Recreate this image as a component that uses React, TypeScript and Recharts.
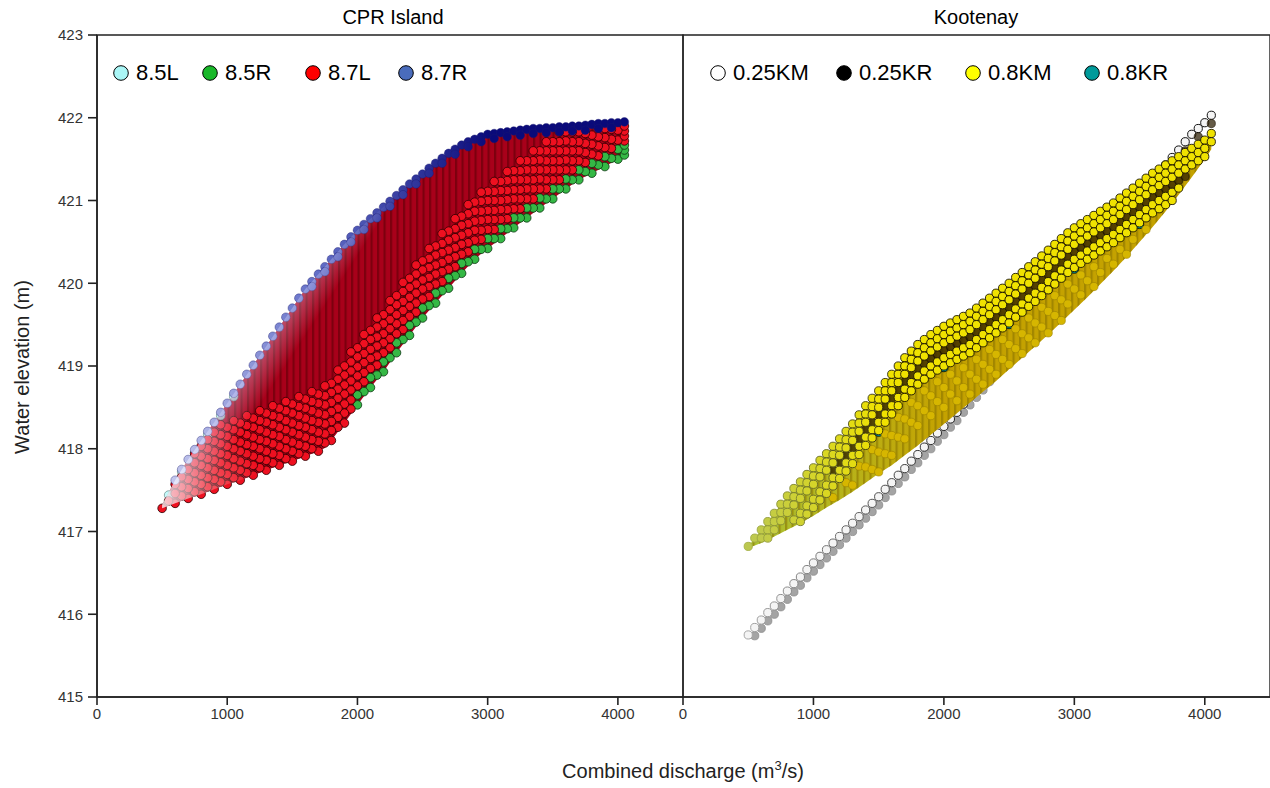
import React from "react";
import { ComposedChart, Area, Scatter, XAxis, YAxis, ReferenceArea } from "recharts";

type Lane = { grid: number[]; from: number; ys: number[] };

const xTicks = [0, 1000, 2000, 3000, 4000];
const yTicks = [415, 416, 417, 418, 419, 420, 421, 422, 423];

// discharge steps the modelled points sit on
const gridA = [500, 600, 700, 800, 900, 1000, 1100, 1200, 1300, 1400, 1500, 1600, 1700, 1800, 1900, 2000, 2100, 2200, 2300, 2400, 2500, 2600, 2700, 2800, 2900, 3000, 3100, 3200, 3300, 3400, 3500, 3600, 3700, 3800, 3900, 4000, 4050];
const gridB = [550, 650, 750, 850, 950, 1050, 1150, 1250, 1350, 1450, 1550, 1650, 1750, 1850, 1950, 2050, 2150, 2250, 2350, 2450, 2550, 2650, 2750, 2850, 2950, 3050, 3150, 3250, 3350, 3450, 3550, 3650, 3750, 3850, 3950, 4050];
const gridC = [500, 550, 600, 650, 700, 750, 800, 850, 900, 950, 1000, 1050, 1100, 1150, 1200, 1250, 1300, 1350, 1400, 1450, 1500, 1550, 1600, 1650, 1700, 1750, 1800, 1850, 1900, 1950, 2000, 2050, 2100, 2150, 2200, 2250, 2300, 2350, 2400, 2450, 2500, 2550, 2600, 2650, 2700, 2750, 2800, 2850, 2900, 2950, 3000, 3050, 3100, 3150, 3200, 3250, 3300, 3350, 3400, 3450, 3500, 3550, 3600, 3650, 3700, 3750, 3800, 3850, 3900, 3950, 4000, 4050];

// ---------- CPR Island
const cprX = [500, 600, 700, 800, 900, 1000, 1100, 1200, 1300, 1400, 1500, 1600, 1700, 1750, 1800, 1900, 2000, 2100, 2200, 2300, 2400, 2500, 2600, 2700, 2800, 2900, 3000, 3100, 3200, 3300, 3400, 3500, 3600, 3700, 3800, 3900, 4000, 4050];
const cprLow = [417.28, 417.34, 417.4, 417.45, 417.51, 417.57, 417.62, 417.68, 417.74, 417.8, 417.85, 417.91, 417.97, 418.01, 418.1, 418.31, 418.53, 418.74, 418.93, 419.16, 419.37, 419.58, 419.76, 419.94, 420.12, 420.29, 420.42, 420.54, 420.67, 420.79, 420.91, 421.02, 421.14, 421.25, 421.33, 421.41, 421.5, 421.55];
const cprHigh = [417.32, 417.62, 417.87, 418.1, 418.32, 418.55, 418.78, 419.01, 419.24, 419.47, 419.7, 419.93, 420.11, 420.2, 420.29, 420.47, 420.64, 420.78, 420.92, 421.06, 421.2, 421.32, 421.45, 421.57, 421.67, 421.74, 421.8, 421.82, 421.84, 421.86, 421.87, 421.88, 421.89, 421.9, 421.92, 421.93, 421.94, 421.95];

const cpr85L: Lane[] = [
  { grid: gridB, from: 550, ys: [417.44, 417.72, 417.95, 418.17, 418.4, 418.63] },
];
const cpr85R: Lane[] = [
  { grid: gridA, from: 2000, ys: [418.53, 418.74, 418.93, 419.16, 419.37, 419.58, 419.76, 419.94, 420.12, 420.29, 420.42, 420.54, 420.67, 420.79, 420.91, 421.02, 421.14, 421.25, 421.33, 421.41, 421.5, 421.55] },
  { grid: gridB, from: 2050, ys: [418.69, 418.89, 419.1, 419.32, 419.53, 419.73, 419.91, 420.09, 420.26, 420.41, 420.54, 420.66, 420.79, 420.91, 421.02, 421.14, 421.25, 421.35, 421.43, 421.51, 421.61] },
  { grid: gridA, from: 2000, ys: [418.65, 418.86, 419.05, 419.28, 419.49, 419.7, 419.88, 420.06, 420.24, 420.41, 420.54, 420.66, 420.79, 420.91, 421.03, 421.14, 421.26, 421.37, 421.45, 421.53, 421.62, 421.67] },
];
const cpr87L: Lane[] = [
  { grid: gridA, from: 500, ys: [417.28, 417.34, 417.4, 417.45, 417.51, 417.57, 417.62, 417.68, 417.74, 417.8, 417.85, 417.91, 417.97, 418.1, 418.31] },
  { grid: gridB, from: 550, ys: [417.37, 417.43, 417.48, 417.54, 417.6, 417.65, 417.71, 417.77, 417.83, 417.88, 417.94, 418.0, 418.07, 418.26, 418.48] },
  { grid: gridA, from: 600, ys: [417.46, 417.52, 417.57, 417.63, 417.69, 417.74, 417.8, 417.86, 417.92, 417.97, 418.03, 418.09, 418.22, 418.43] },
  { grid: gridB, from: 650, ys: [417.54, 417.6, 417.65, 417.71, 417.77, 417.82, 417.88, 417.94, 418.0, 418.05, 418.11, 418.18, 418.38, 418.59, 418.81, 419.01, 419.22, 419.44, 419.65, 419.84, 420.02, 420.2, 420.38, 420.53, 420.65, 420.78, 420.9, 421.02, 421.14, 421.25, 421.37, 421.46, 421.54, 421.63, 421.72] },
  { grid: gridA, from: 600, ys: [417.57, 417.63, 417.68, 417.74, 417.8, 417.85, 417.91, 417.97, 418.03, 418.08, 418.14, 418.2, 418.33, 418.54, 418.76, 418.97, 419.16, 419.39, 419.6, 419.81, 419.99, 420.17, 420.35, 420.52, 420.65, 420.77, 420.9, 421.02, 421.14, 421.25, 421.37, 421.48, 421.56, 421.64, 421.73, 421.78] },
  { grid: gridB, from: 650, ys: [417.66, 417.71, 417.77, 417.83, 417.88, 417.94, 418.0, 418.06, 418.11, 418.17, 418.23, 418.3, 418.49, 418.71, 418.92, 419.12, 419.33, 419.55, 419.76, 419.96, 420.14, 420.32, 420.49, 420.64, 420.77, 420.89, 421.02, 421.14, 421.25, 421.37, 421.48, 421.58, 421.66, 421.74, 421.84] },
  { grid: gridA, from: 700, ys: [417.75, 417.8, 417.86, 417.92, 417.97, 418.03, 418.09, 418.15, 418.2, 418.26, 418.32, 418.45, 418.66, 418.88, 419.09, 419.28, 419.51, 419.72, 419.93, 420.11, 420.29, 420.47, 420.64, 420.77, 420.89, 421.02, 421.14, 421.26, 421.37, 421.49, 421.6, 421.68, 421.76, 421.85, 421.9] },
  { grid: gridB, from: 750, ys: [417.83, 417.88, 417.94, 418.0, 418.05, 418.11, 418.17, 418.23, 418.28, 418.34, 418.41, 418.61, 418.82, 419.04, 419.24, 419.45, 419.67, 419.88, 420.07, 420.25, 420.43, 420.61, 420.76, 420.88, 421.01, 421.13, 421.25, 421.37, 421.48, 421.6, 421.69, 421.77, 421.86] },
  { grid: gridA, from: 800, ys: [417.91, 417.97, 418.03, 418.08, 418.14, 418.2, 418.26, 418.31, 418.37, 418.43, 418.56, 418.77, 418.99, 419.2, 419.39, 419.62, 419.83, 420.04, 420.22, 420.4, 420.58, 420.75, 420.88, 421.0, 421.13, 421.25, 421.37, 421.48, 421.6, 421.71, 421.79, 421.87] },
  { grid: gridB, from: 750, ys: [417.94, 418.0, 418.06, 418.11, 418.17, 418.23, 418.29, 418.34, 418.4, 418.46, 418.53, 418.72, 418.94, 419.15, 419.35, 419.56, 419.78, 419.99, 420.19, 420.37, 420.55, 420.72, 420.87, 421.0, 421.12, 421.25, 421.37, 421.48, 421.6, 421.71, 421.81, 421.89] },
  { grid: gridA, from: 800, ys: [418.03, 418.09, 418.15, 418.2, 418.26, 418.32, 418.38, 418.43, 418.49, 418.55, 418.68, 418.89, 419.11, 419.32, 419.51, 419.74, 419.95, 420.16, 420.34, 420.52, 420.7, 420.87, 421.0, 421.12, 421.25, 421.37, 421.49, 421.6, 421.72, 421.83] },
  { grid: gridB, from: 850, ys: [418.11, 418.17, 418.23, 418.28, 418.34, 418.4, 418.46, 418.51, 418.57, 418.64, 418.84, 419.05, 419.27, 419.47, 419.68, 419.9, 420.11, 420.3, 420.48, 420.66, 420.84, 420.99, 421.11, 421.24, 421.36, 421.48, 421.6, 421.71, 421.83] },
  { grid: gridA, from: 900, ys: [418.2, 418.26, 418.31, 418.37, 418.43, 418.49, 418.54, 418.6, 418.66, 418.79, 419.0, 419.22, 419.43, 419.62, 419.85, 420.06, 420.27, 420.45, 420.63, 420.81, 420.98, 421.11, 421.23, 421.36, 421.48, 421.6, 421.71, 421.83] },
  { grid: gridB, from: 950, ys: [418.29, 418.34, 418.4, 418.46, 418.52, 418.57, 418.63, 418.69, 418.76, 418.95, 419.17, 419.38, 419.58, 419.79, 420.01, 420.22, 420.42, 420.6, 420.78, 420.95, 421.1, 421.23, 421.35, 421.48, 421.6, 421.71, 421.83] },
];
const cpr87R: Lane[] = [
  { grid: gridC, from: 600, ys: [417.62, 417.75, 417.87, 417.99, 418.1, 418.21, 418.32, 418.44, 418.55, 418.67, 418.78, 418.9, 419.01, 419.13, 419.24, 419.36, 419.47, 419.59, 419.7, 419.82, 419.93, 420.02, 420.11, 420.2, 420.29, 420.38, 420.47, 420.56, 420.64, 420.71, 420.78, 420.85, 420.92, 420.99, 421.06, 421.13, 421.2, 421.26, 421.32, 421.39, 421.45, 421.51, 421.57, 421.62, 421.67, 421.71, 421.74, 421.77, 421.8, 421.81, 421.82, 421.83, 421.84, 421.85, 421.86, 421.87, 421.87, 421.88, 421.88, 421.89, 421.89, 421.9, 421.9, 421.91, 421.92, 421.93, 421.93, 421.94, 421.94, 421.95] },
  { grid: gridB, from: 1650, ys: [419.96, 420.14, 420.32, 420.5, 420.65, 420.79, 420.93, 421.07, 421.2, 421.33, 421.45, 421.56, 421.65, 421.71, 421.75, 421.77, 421.79, 421.81, 421.82, 421.83, 421.84, 421.85, 421.87, 421.88] },
];

// ---------- Kootenay
const kooX = [500, 600, 700, 800, 900, 1000, 1100, 1200, 1300, 1400, 1500, 1600, 1700, 1800, 1900, 2000, 2100, 2200, 2300, 2400, 2500, 2600, 2700, 2800, 2900, 3000, 3100, 3200, 3300, 3400, 3500, 3600, 3700, 3800, 3900, 4000, 4050];
const kooLow = [416.8, 416.86, 416.94, 417.02, 417.1, 417.19, 417.29, 417.38, 417.48, 417.59, 417.7, 417.8, 417.92, 418.04, 418.17, 418.3, 418.43, 418.56, 418.69, 418.82, 418.96, 419.1, 419.24, 419.38, 419.53, 419.68, 419.83, 419.99, 420.15, 420.32, 420.5, 420.68, 420.87, 421.07, 421.28, 421.5, 421.62];
const kooHigh = [416.82, 417.02, 417.22, 417.43, 417.6, 417.77, 417.94, 418.12, 418.3, 418.52, 418.7, 418.9, 419.1, 419.26, 419.38, 419.48, 419.56, 419.64, 419.76, 419.88, 420.0, 420.13, 420.26, 420.4, 420.54, 420.67, 420.77, 420.87, 420.97, 421.09, 421.21, 421.33, 421.43, 421.53, 421.63, 421.73, 421.81];

const koo025KMgrey: Lane[] = [
  { grid: gridC, from: 550, ys: [415.74, 415.83, 415.92, 416.0, 416.09, 416.18, 416.27, 416.35, 416.44, 416.52, 416.6, 416.68, 416.76, 416.84, 416.92, 417.0, 417.08, 417.16, 417.24, 417.32, 417.41, 417.49, 417.58, 417.66, 417.75, 417.83, 417.92, 418.0, 418.09, 418.17, 418.26, 418.34, 418.44, 418.53, 418.62, 418.71, 418.81, 418.9, 419.0, 419.09] },
];
const koo025KM: Lane[] = [
  { grid: gridC, from: 500, ys: [415.75, 415.84, 415.93, 416.02, 416.1, 416.19, 416.28, 416.37, 416.45, 416.54, 416.62, 416.7, 416.78, 416.86, 416.94, 417.02, 417.1, 417.18, 417.26, 417.34, 417.42, 417.51, 417.59, 417.68, 417.76, 417.85, 417.93, 418.02, 418.1, 418.19, 418.27, 418.36, 418.44, 418.54, 418.63, 418.72, 418.81, 418.91, 419.0, 419.1, 419.19, 419.28, 419.37, 419.47, 419.56, 419.66, 419.75, 419.84, 419.93, 420.03, 420.12, 420.22, 420.31, 420.4, 420.49, 420.59, 420.68, 420.78, 420.87, 420.96, 421.05, 421.15, 421.24, 421.34, 421.43, 421.52, 421.61, 421.71, 421.8, 421.87, 421.94, 422.03] },
];
const koo025KR: Lane[] = [
  { grid: gridC, from: 1150, ys: [417.74, 417.83, 417.92, 418.01, 418.12, 418.23, 418.32, 418.41, 418.51, 418.61, 418.71, 418.81, 418.89, 418.97, 419.03, 419.09, 419.14, 419.19, 419.23, 419.27, 419.31, 419.35, 419.41, 419.47, 419.53, 419.59, 419.65, 419.71, 419.78, 419.84, 419.91, 419.97, 420.04, 420.11, 420.18, 420.25, 420.32, 420.38, 420.43, 420.48, 420.53, 420.58, 420.63, 420.68, 420.74, 420.8, 420.86, 420.92, 420.98, 421.04, 421.09, 421.14, 421.19, 421.24, 421.29] },
  { grid: gridB, from: 3650, ys: [421.23, 421.42, 421.6, 421.77, 421.93] },
];
const koo08KMtop: Lane[] = [
  { grid: gridC, from: 500, ys: [416.82, 416.92, 417.02, 417.12, 417.22, 417.33, 417.43, 417.52, 417.6, 417.69, 417.77, 417.86, 417.94, 418.03, 418.12, 418.21, 418.3, 418.41, 418.52, 418.61, 418.7, 418.8, 418.9, 419.0, 419.1, 419.18, 419.26, 419.32, 419.38, 419.43, 419.48, 419.52, 419.56, 419.6, 419.64, 419.7, 419.76, 419.82, 419.88, 419.94, 420.0, 420.07, 420.13, 420.2, 420.26, 420.33, 420.4, 420.47, 420.54, 420.61, 420.67, 420.72, 420.77, 420.82, 420.87, 420.92, 420.97, 421.03, 421.09, 421.15, 421.21, 421.27, 421.33, 421.38, 421.43, 421.48, 421.53, 421.58, 421.63, 421.68, 421.73, 421.81] },
  { grid: gridC, from: 600, ys: [416.92, 417.02, 417.12, 417.23, 417.33, 417.42, 417.5, 417.59, 417.67, 417.76, 417.84, 417.93, 418.02, 418.11, 418.2, 418.31, 418.42, 418.51, 418.6, 418.7, 418.8, 418.9, 419.0, 419.08, 419.16, 419.22, 419.28, 419.33, 419.38, 419.42, 419.46, 419.5, 419.54, 419.6, 419.66, 419.72, 419.78, 419.84, 419.9, 419.97, 420.03, 420.1, 420.16, 420.23, 420.3, 420.37, 420.44, 420.51, 420.57, 420.62, 420.67, 420.72, 420.77, 420.82, 420.87, 420.93, 420.99, 421.05, 421.11, 421.17, 421.23, 421.28, 421.33, 421.38, 421.43, 421.48, 421.53, 421.58, 421.63, 421.71] },
  { grid: gridC, from: 650, ys: [416.92, 417.02, 417.13, 417.23, 417.32, 417.4, 417.49, 417.57, 417.66, 417.74, 417.83, 417.92, 418.01, 418.1, 418.21, 418.32, 418.41, 418.5, 418.6, 418.7, 418.8, 418.9, 418.98, 419.06, 419.12, 419.18, 419.23, 419.28, 419.32, 419.36, 419.4, 419.44, 419.5, 419.56, 419.62, 419.68, 419.74, 419.8, 419.87, 419.93, 420.0, 420.06, 420.13, 420.2, 420.27, 420.34, 420.41, 420.47, 420.52, 420.57, 420.62, 420.67, 420.72, 420.77, 420.83, 420.89, 420.95, 421.01, 421.07, 421.13, 421.18, 421.23, 421.28, 421.33, 421.38, 421.43, 421.48, 421.53] },
  { grid: gridC, from: 850, ys: [417.14, 417.22, 417.31, 417.39, 417.48, 417.56, 417.65, 417.74, 417.83, 417.92, 418.03, 418.14, 418.23, 418.32, 418.42, 418.52, 418.62, 418.72, 418.8, 418.88, 418.94, 419.0, 419.05, 419.1, 419.14, 419.18, 419.22, 419.26, 419.32, 419.38, 419.44, 419.5, 419.56, 419.62, 419.69, 419.75, 419.82, 419.88, 419.95, 420.02, 420.09, 420.16, 420.23, 420.29, 420.34, 420.39, 420.44, 420.49, 420.54, 420.59, 420.65, 420.71, 420.77, 420.83, 420.89, 420.95, 421.0, 421.05, 421.1, 421.15] },
  { grid: gridC, from: 900, ys: [417.12, 417.21, 417.29, 417.38, 417.46, 417.55, 417.64, 417.73, 417.82, 417.93, 418.04, 418.13, 418.22, 418.32, 418.42, 418.52, 418.62, 418.7, 418.78, 418.84, 418.9, 418.95, 419.0, 419.04, 419.08, 419.12, 419.16, 419.22, 419.28, 419.34, 419.4, 419.46, 419.52, 419.59, 419.65, 419.72, 419.78, 419.85, 419.92, 419.99, 420.06, 420.13, 420.19, 420.24, 420.29, 420.34, 420.39, 420.44, 420.49, 420.55, 420.61, 420.67, 420.73, 420.79, 420.85, 420.9, 420.95, 421.0] },
];
const koo08KMlow: Lane[] = [
  { grid: gridB, from: 1150, ys: [417.41, 417.59, 417.79, 417.99, 418.18, 418.38, 418.56, 418.7, 418.81, 418.9, 418.98, 419.08, 419.2, 419.32, 419.45, 419.58, 419.71, 419.85, 419.99, 420.1, 420.2, 420.3, 420.41, 420.53, 420.65] },
  { grid: gridA, from: 1300, ys: [417.56, 417.78, 417.96, 418.16, 418.36, 418.52, 418.64, 418.74, 418.82, 418.9, 419.02, 419.14, 419.26, 419.39, 419.52, 419.66, 419.8, 419.93, 420.03, 420.13, 420.23, 420.35] },
  { grid: gridB, from: 1450, ys: [417.75, 417.94, 418.14, 418.32, 418.46, 418.57, 418.66, 418.74, 418.84, 418.96, 419.08, 419.21, 419.34, 419.47, 419.61, 419.75, 419.86, 419.96] },
  { grid: gridA, from: 1500, ys: [417.72, 417.92, 418.12, 418.28, 418.4, 418.5, 418.58, 418.66, 418.78, 418.9, 419.02, 419.15, 419.28, 419.4, 419.55] },
];
const koo08KR: Lane[] = [
  { grid: gridA, from: 1500, ys: [418.2] },
  { grid: gridA, from: 2000, ys: [418.98] },
  { grid: gridA, from: 2500, ys: [419.5] },
  { grid: gridA, from: 3000, ys: [420.17] },
  { grid: gridA, from: 3500, ys: [420.71] },
];

const cprLegend = [
  { name: "8.5L", fill: "#aaf6f6", left: 112 },
  { name: "8.5R", fill: "#19b82a", left: 201 },
  { name: "8.7L", fill: "#ff0000", left: 304 },
  { name: "8.7R", fill: "#4a6cbc", left: 397 },
];
const kooLegend = [
  { name: "0.25KM", fill: "#ffffff", left: 709 },
  { name: "0.25KR", fill: "#000000", left: 835 },
  { name: "0.8KM", fill: "#ffff00", left: 964 },
  { name: "0.8KR", fill: "#009a9a", left: 1083 },
];

const FONT = '"Liberation Sans", Arial, Helvetica, sans-serif';

const pts = (lanes: Lane[]) =>
  lanes.flatMap((l) => {
    const i0 = l.grid.indexOf(l.from);
    return l.ys.map((y, i) => ({ x: l.grid[i0 + i], y })).filter((p) => p.x !== undefined);
  });
const band = (xs: number[], lo: number[], hi: number[]) => xs.map((x, i) => ({ x, band: [lo[i], hi[i]] }));

const dot = (fill: string, stroke: string, sw = 0.8, r = 4.3, op = 1) => (p: any) =>
  <circle cx={p.cx} cy={p.cy} r={r} fill={fill} stroke={stroke} strokeWidth={sw} fillOpacity={op} />;

function Legend({ items }: { items: { name: string; fill: string; left: number }[] }) {
  return (
    <>
      {items.map((it) => (
        <div key={it.name} style={{ position: "absolute", left: it.left, top: 61, height: 24, display: "flex", alignItems: "center" }}>
          <svg width={18} height={18}>
            <circle cx={9} cy={9} r={7.3} fill={it.fill} stroke="#000" strokeWidth={1} />
          </svg>
          <span style={{ marginLeft: 6, fontSize: 22, lineHeight: "24px", color: "#000" }}>{it.name}</span>
        </div>
      ))}
    </>
  );
}

const tick = { fontSize: 15, fill: "#333", fontFamily: FONT };
const axisLine = { stroke: "#222", strokeWidth: 1.6 };

export default function App() {
  return (
    <div style={{ position: "absolute", left: 0, top: 0, width: 1270, height: 788, overflow: "hidden", background: "#fff", fontFamily: FONT }}>
      <div style={{ position: "absolute", left: 0, top: 0 }}>
        <ComposedChart width={684} height={788} data={band(cprX, cprLow, cprHigh)} margin={{ top: 35, right: 1, bottom: 61, left: 0 }}>
          <defs>
            <pattern id="cprStreak" patternUnits="userSpaceOnUse" width="6.5" height="10">
              <rect width="6.5" height="10" fill="#a8001a" />
              <rect width="2.2" height="10" fill="#7c000e" />
            </pattern>
            <radialGradient id="cprFade" gradientUnits="userSpaceOnUse" cx="158" cy="505" r="105">
              <stop offset="0" stopColor="#fff" stopOpacity="0.7" />
              <stop offset="0.5" stopColor="#fff" stopOpacity="0.3" />
              <stop offset="1" stopColor="#fff" stopOpacity="0" />
            </radialGradient>
            <linearGradient id="cprEdge" gradientUnits="userSpaceOnUse" x1="245" y1="378" x2="268" y2="393">
              <stop offset="0" stopColor="#e4e2ff" stopOpacity="0.35" />
              <stop offset="1" stopColor="#e4e2ff" stopOpacity="0" />
            </linearGradient>
            <linearGradient id="cprBlue" gradientUnits="userSpaceOnUse" x1="170" y1="0" x2="490" y2="0">
              <stop offset="0" stopColor="#c4c8ee" />
              <stop offset="0.45" stopColor="#6470c8" />
              <stop offset="1" stopColor="#0a0a7a" />
            </linearGradient>
          </defs>
          <XAxis type="number" dataKey="x" domain={[0, 4500]} ticks={xTicks} interval={0} allowDataOverflow height={30} tick={tick} tickSize={8} tickMargin={3} axisLine={axisLine} tickLine={axisLine} />
          <YAxis type="number" domain={[415, 423]} ticks={yTicks} interval={0} allowDataOverflow width={97} tick={tick} tickSize={9} tickMargin={5} axisLine={axisLine} tickLine={axisLine} />
          <Area dataKey="band" stroke="none" fill="url(#cprStreak)" fillOpacity={1} isAnimationActive={false} />
          <Scatter name="8.5L" data={pts(cpr85L)} dataKey="y" shape={dot("#aaf6f6", "#557777", 0.6, 4.3, 0.7)} isAnimationActive={false} />
          <Scatter name="8.5R" data={pts(cpr85R)} dataKey="y" shape={dot("#35b845", "#0b3510", 0.8)} isAnimationActive={false} />
          <Scatter name="8.7L" data={pts(cpr87L)} dataKey="y" shape={dot("#ee1020", "#2a0000", 0.8)} isAnimationActive={false} />
          <Scatter name="8.7R" data={pts(cpr87R)} dataKey="y" shape={dot("url(#cprBlue)", "#1a1a70", 0.4)} isAnimationActive={false} />
          <Area dataKey="band" stroke="none" fill="url(#cprEdge)" fillOpacity={1} isAnimationActive={false} zIndex={1000} />
          <Area dataKey="band" stroke="none" fill="url(#cprFade)" fillOpacity={1} isAnimationActive={false} zIndex={1000} />
          <ReferenceArea x1={0} x2={4500} y1={415} y2={423} fill="none" stroke="#222" strokeWidth={1.4} />
        </ComposedChart>
      </div>

      <div style={{ position: "absolute", left: 603, top: 0 }}>
        <ComposedChart width={667} height={788} data={band(kooX, kooLow, kooHigh)} margin={{ top: 35, right: 0, bottom: 61, left: 80 }}>
          <defs>
            <linearGradient id="kooBase" gradientUnits="userSpaceOnUse" x1="140" y1="0" x2="340" y2="0">
              <stop offset="0" stopColor="#aac436" />
              <stop offset="1" stopColor="#c4a200" />
            </linearGradient>
            <pattern id="kooStreak" patternUnits="userSpaceOnUse" width="6.5" height="10">
              <rect width="2.2" height="10" fill="#8a7400" />
            </pattern>
            <linearGradient id="kooWhite" gradientUnits="userSpaceOnUse" x1="140" y1="0" x2="370" y2="0">
              <stop offset="0" stopColor="#a8a8a8" />
              <stop offset="1" stopColor="#111" />
            </linearGradient>
            <linearGradient id="kooYelStroke" gradientUnits="userSpaceOnUse" x1="140" y1="0" x2="300" y2="0">
              <stop offset="0" stopColor="#a8b448" />
              <stop offset="1" stopColor="#1a1400" />
            </linearGradient>
            <linearGradient id="kooYelFill" gradientUnits="userSpaceOnUse" x1="147" y1="0" x2="280" y2="0">
              <stop offset="0" stopColor="#bcc850" />
              <stop offset="1" stopColor="#f0e200" />
            </linearGradient>
          </defs>
          <XAxis type="number" dataKey="x" domain={[0, 4500]} ticks={xTicks} interval={0} allowDataOverflow height={30} tick={tick} tickSize={8} tickMargin={3} axisLine={axisLine} tickLine={axisLine} />
          <YAxis type="number" domain={[415, 423]} ticks={yTicks} allowDataOverflow hide />
          <Scatter name="0.25KM" data={pts(koo025KMgrey)} dataKey="y" shape={dot("#a4a4a4", "#8a8a8a", 0.8, 4.1)} isAnimationActive={false} zIndex={40} />
          <Scatter name="0.25KM" data={pts(koo025KM)} dataKey="y" shape={dot("#f4f4f4", "url(#kooWhite)", 1, 4.1)} isAnimationActive={false} zIndex={50} />
          <Area dataKey="band" stroke="none" fill="url(#kooBase)" fillOpacity={1} isAnimationActive={false} />
          <Area dataKey="band" stroke="none" fill="url(#kooStreak)" fillOpacity={0.6} isAnimationActive={false} />
          <Scatter name="0.25KR" data={pts(koo025KR)} dataKey="y" shape={dot("#2a1c00", "#1a1000", 0.6, 4.1, 0.72)} isAnimationActive={false} />
          <Scatter name="0.8KR" data={pts(koo08KR)} dataKey="y" shape={dot("#009a9a", "#000", 0.8, 4.1)} isAnimationActive={false} />
          <Scatter name="0.8KM" data={pts(koo08KMlow)} dataKey="y" shape={dot("#d6b600", "#9a8200", 0.6, 4.1)} isAnimationActive={false} />
          <Scatter name="0.8KM" data={pts(koo08KMtop)} dataKey="y" shape={dot("url(#kooYelFill)", "url(#kooYelStroke)", 0.9, 4.1)} isAnimationActive={false} />
          <ReferenceArea x1={0} x2={4500} y1={415} y2={423} fill="none" stroke="#222" strokeWidth={1.4} />
        </ComposedChart>
      </div>

      <Legend items={cprLegend} />
      <Legend items={kooLegend} />

      <div style={{ position: "absolute", left: 293, width: 200, top: 6, textAlign: "center", fontSize: 20, color: "#000" }}>CPR Island</div>
      <div style={{ position: "absolute", left: 876, width: 200, top: 6, textAlign: "center", fontSize: 20, color: "#000" }}>Kootenay</div>

      <div style={{ position: "absolute", left: 433, width: 500, top: 760, textAlign: "center", fontSize: 20, color: "#222" }}>
        Combined discharge (m<span style={{ fontSize: 13, position: "relative", top: -8 }}>3</span>/s)
      </div>
      <div style={{ position: "absolute", left: 22, top: 367, width: 0, height: 0 }}>
        <div style={{ position: "absolute", left: -150, top: -12, width: 300, textAlign: "center", fontSize: 20, lineHeight: "24px", color: "#222", transform: "rotate(-90deg)" }}>
          Water elevation (m)
        </div>
      </div>
    </div>
  );
}
